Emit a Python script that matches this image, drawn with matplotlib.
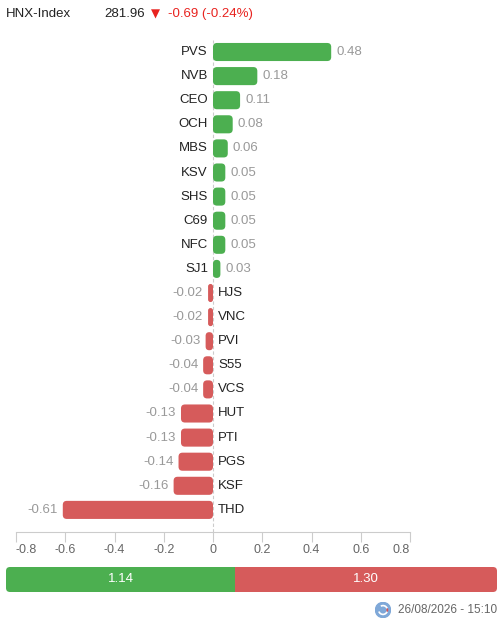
import matplotlib
matplotlib.use("Agg")

import matplotlib.pyplot as plt
from matplotlib.patches import FancyBboxPatch, Circle, Arc

plt.rcParams["font.family"] = ["Liberation Sans", "DejaVu Sans"]

# ---- data ----
tickers = ["PVS", "NVB", "CEO", "OCH", "MBS", "KSV", "SHS", "C69", "NFC", "SJ1",
           "HJS", "VNC", "PVI", "S55", "VCS", "HUT", "PTI", "PGS", "KSF", "THD"]
impact = [0.48, 0.18, 0.11, 0.08, 0.06, 0.05, 0.05, 0.05, 0.05, 0.03,
          -0.02, -0.02, -0.03, -0.04, -0.04, -0.13, -0.13, -0.14, -0.16, -0.61]
x_ticks = [-0.8, -0.6, -0.4, -0.2, 0, 0.2, 0.4, 0.6, 0.8]
x_tick_labels = ["-0.8", "-0.6", "-0.4", "-0.2", "0", "0.2", "0.4", "0.6", "0.8"]

index_name = "HNX-Index"
index_value = "281.96"
index_change = "-0.69 (-0.24%)"
total_up = 1.14
total_down = 1.30
timestamp = "26/08/2026 - 15:10"

GREEN = "#4caf50"
RED = "#d65b5b"
W, H = 504, 628

fig = plt.figure(figsize=(W / 100, H / 100), dpi=100)


def px_box(x0, y0, x1, y1):
    # pixel box (top-left origin) -> figure fraction rect
    return [x0 / W, 1 - y1 / H, (x1 - x0) / W, (y1 - y0) / H]


# ---- header ----
fig.text(6 / W, 1 - 14 / H, index_name, fontsize=9.5, color="#222222", va="center")
fig.text(104 / W, 1 - 14 / H, index_value, fontsize=9.5, color="#222222", va="center")
fig.text(151 / W, 1 - 14 / H, "\u25bc", fontsize=8.5, color="#e8231f", va="center",
         family=["DejaVu Sans"])
fig.text(168 / W, 1 - 14 / H, index_change, fontsize=9.5, color="#e8231f", va="center")

# ---- main bars ----
ax = fig.add_axes(px_box(16, 40, 410, 532))
ax.set_xlim(-0.8, 0.8)
row_px = 24.1
ax.set_ylim((532 - 52) / row_px, -12 / row_px)

rows = list(range(len(tickers)))
colors = [GREEN if v >= 0 else RED for v in impact]
bars = ax.barh(rows, impact, height=0.75, color=colors)

px_x = 394 / 1.6
px_y = row_px
aspect = px_x / px_y
radius = 4 / px_x
for b, c in zip(bars, colors):
    x0, y0, w, h = b.get_x(), b.get_y(), b.get_width(), b.get_height()
    if w < 0:
        x0, w = x0 + w, -w
    r = min(radius, w / 2)
    b.set_visible(False)
    ax.add_patch(FancyBboxPatch((x0, y0), w, h,
                                boxstyle="round,pad=0,rounding_size=%f" % r,
                                mutation_aspect=aspect, facecolor=c, edgecolor="none"))

off = 5 / px_x
for i, (t, v) in enumerate(zip(tickers, impact)):
    if v >= 0:
        ax.text(-off, i, t, ha="right", va="center", fontsize=9.5, color="#222222")
        ax.text(v + off, i, "%.2f" % v, ha="left", va="center", fontsize=9.5, color="#999999")
    else:
        ax.text(off, i, t, ha="left", va="center", fontsize=9.5, color="#222222")
        ax.text(v - off, i, "%.2f" % v, ha="right", va="center", fontsize=9.5, color="#999999")

ax.axvline(0, color="#cccccc", linewidth=0.8, linestyle=(0, (3, 2)), zorder=0)

for s in ["top", "left", "right"]:
    ax.spines[s].set_visible(False)
ax.spines["bottom"].set_color("#cccccc")
ax.spines["bottom"].set_linewidth(0.8)
ax.set_yticks([])
ax.set_xticks(x_ticks)
ax.set_xticklabels(x_tick_labels)
ax.tick_params(axis="x", length=7, width=0.8, color="#cccccc",
               labelsize=9, labelcolor="#666666", pad=1.5)
# edge labels kept inside the plot, as in the original
tick_lbls = ax.get_xticklabels()
tick_lbls[0].set_horizontalalignment("left")
tick_lbls[-1].set_horizontalalignment("right")

# ---- up / down total bar ----
ax2 = fig.add_axes(px_box(6, 567, 497, 592))
ax2.set_xlim(0, total_up + total_down)
ax2.set_ylim(-0.5, 0.5)
ax2.axis("off")
b_up = ax2.barh(0, total_up, height=1, color=GREEN)
b_dn = ax2.barh(0, total_down, left=total_up, height=1, color=RED)
clip = FancyBboxPatch((0, 0), 1, 1, boxstyle="round,pad=0,rounding_size=%f" % (4 / 491),
                      mutation_aspect=491 / 25, transform=ax2.transAxes,
                      facecolor="none", edgecolor="none")
ax2.add_patch(clip)
for b in list(b_up) + list(b_dn):
    b.set_clip_path(clip)
ax2.text(total_up / 2, 0, "%.2f" % total_up, ha="center", va="center",
         fontsize=9.5, color="white")
ax2.text(total_up + total_down / 2, 0, "%.2f" % total_down, ha="center", va="center",
         fontsize=9.5, color="white")

# ---- footer ----
fig.text(497 / W, 1 - 610 / H, timestamp, ha="right", va="center",
         fontsize=8.5, color="#666666")
ax3 = fig.add_axes(px_box(375, 602, 391, 618))
ax3.set_xlim(-1, 1)
ax3.set_ylim(-1, 1)
ax3.set_aspect("equal")
ax3.axis("off")
ax3.add_patch(Circle((0, 0), 0.95, color="#7fa8d8"))
ax3.add_patch(Arc((0, 0), 1.1, 1.1, theta1=200, theta2=340, color="white", linewidth=1.2))
ax3.add_patch(Arc((0, 0), 1.1, 1.1, theta1=20, theta2=120, color="white", linewidth=1.2))
ax3.add_patch(Arc((0, 0), 1.1, 1.1, theta1=-20, theta2=20, color="#e05050", linewidth=1.2))

fig.savefig("out.png", dpi=100)
